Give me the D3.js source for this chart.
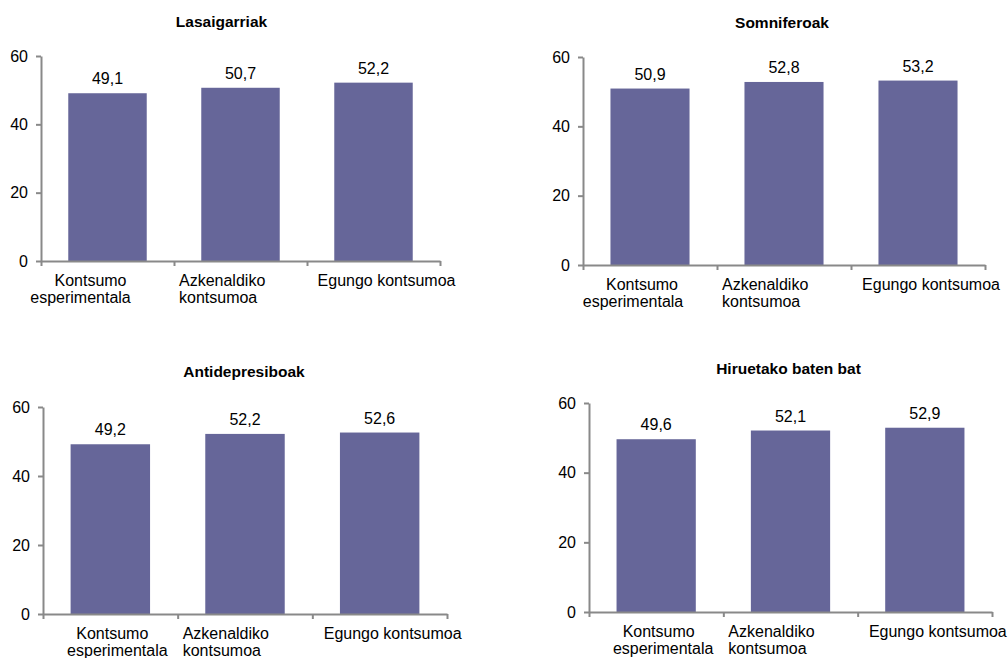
<!DOCTYPE html>
<html>
<head>
<meta charset="utf-8">
<script src="https://cdn.jsdelivr.net/npm/d3@7"></script>
<style>
  html, body { margin: 0; padding: 0; background: #ffffff; }
  svg { display: block; }
  text { font-family: "Liberation Sans", Arial, sans-serif; }
</style>
</head>
<body>
<svg id="chart" width="1008" height="658"></svg>
<script>
// ---- Data ----
const categories = ["Kontsumo esperimentala", "Azkenaldiko kontsumoa", "Egungo kontsumoa"];
const categoryLines = [["Kontsumo", "esperimentala"], ["Azkenaldiko", "kontsumoa"], ["Egungo kontsumoa"]];
const titles = ["Lasaigarriak", "Somniferoak", "Antidepresiboak", "Hiruetako baten bat"];
const valuesLasaigarriak = [49.1, 50.7, 52.2];
const valuesSomniferoak = [50.9, 52.8, 53.2];
const valuesAntidepresiboak = [49.2, 52.2, 52.6];
const valuesHiruetako = [49.6, 52.1, 52.9];
const yTicks = [0, 20, 40, 60];

const seriesList = [valuesLasaigarriak, valuesSomniferoak, valuesAntidepresiboak, valuesHiruetako];

// ---- Layout (per panel) ----
const layout = [
  { x0: 41,  x1: 440, yTop: 56,  yBase: 261, titleX: 221.5, titleY: 27,  l1: [-17, -27] },
  { x0: 583, x1: 985, yTop: 57,  yBase: 265, titleX: 782,   titleY: 28,  l1: [-8, -17] },
  { x0: 43,  x1: 447, yTop: 407, yBase: 614, titleX: 244,   titleY: 377, l1: [2, 7] },
  { x0: 589, x1: 992, yTop: 403, yBase: 612, titleX: 788.5, titleY: 374, l1: [2.5, 7] }
];

const barColor = "#666699";
const axisColor = "#898989";
const fontSize = 16;

const svg = d3.select("#chart");

seriesList.forEach((vals, pi) => {
  const L = layout[pi];
  const g = svg.append("g");

  const x = d3.scaleBand()
    .domain(categories)
    .range([L.x0, L.x1])
    .paddingInner(0.41)
    .paddingOuter(0.205);

  const xEdge = d3.scaleLinear().domain([0, categories.length]).range([L.x0, L.x1]);
  const y = d3.scaleLinear().domain([0, 60]).range([L.yBase, L.yTop]);

  // Title
  g.append("text")
    .attr("x", L.titleX)
    .attr("y", L.titleY)
    .attr("text-anchor", "middle")
    .attr("font-weight", "bold")
    .attr("font-size", 15.5)
    .attr("fill", "#000")
    .text(titles[pi]);

  // Bars
  g.selectAll("rect.bar")
    .data(vals)
    .join("rect")
    .attr("class", "bar")
    .attr("x", (d, i) => x(categories[i]))
    .attr("width", x.bandwidth())
    .attr("y", d => y(d))
    .attr("height", d => y(0) - y(d))
    .attr("fill", barColor);

  // Value labels
  g.selectAll("text.val")
    .data(vals)
    .join("text")
    .attr("class", "val")
    .attr("x", (d, i) => x(categories[i]) + x.bandwidth() / 2)
    .attr("y", d => y(d) - 9)
    .attr("text-anchor", "middle")
    .attr("font-size", fontSize)
    .attr("fill", "#000")
    .text(d => d3.format(".1f")(d).replace(".", ","));

  // Y axis
  const yAxis = g.append("g")
    .attr("transform", `translate(${L.x0},0)`)
    .call(d3.axisLeft(y).tickValues(yTicks).tickSize(5).tickSizeOuter(0).tickPadding(8));
  yAxis.select(".domain").attr("stroke", axisColor).attr("stroke-width", 2);
  yAxis.selectAll(".tick line").attr("stroke", axisColor).attr("stroke-width", 2);
  yAxis.selectAll(".tick text")
    .attr("font-size", fontSize)
    .attr("font-family", "Liberation Sans, Arial, sans-serif")
    .attr("fill", "#000");

  // X axis (tick marks at category boundaries)
  const xAxis = g.append("g")
    .attr("transform", `translate(0,${L.yBase})`)
    .call(d3.axisBottom(xEdge).tickValues(d3.range(categories.length + 1)).tickSize(5).tickSizeOuter(0).tickFormat(""));
  xAxis.select(".domain").attr("stroke", axisColor).attr("stroke-width", 2);
  xAxis.selectAll(".tick line").attr("stroke", axisColor).attr("stroke-width", 2);

  // Category labels
  categoryLines.forEach((lines, ci) => {
    const bandStart = xEdge(ci);
    const bandCenter = (xEdge(ci) + xEdge(ci + 1)) / 2;
    lines.forEach((line, li) => {
      let tx, anchor;
      if (ci === 0) { tx = bandCenter + L.l1[li]; anchor = "middle"; }
      else if (ci === 1) { tx = bandStart + 5; anchor = "start"; }
      else { tx = bandCenter + 13; anchor = "middle"; }
      g.append("text")
        .attr("x", tx)
        .attr("y", L.yBase + 25 + li * 17)
        .attr("text-anchor", anchor)
        .attr("font-size", fontSize)
        .attr("fill", "#000")
        .text(line);
    });
  });
});
</script>
</body>
</html>
